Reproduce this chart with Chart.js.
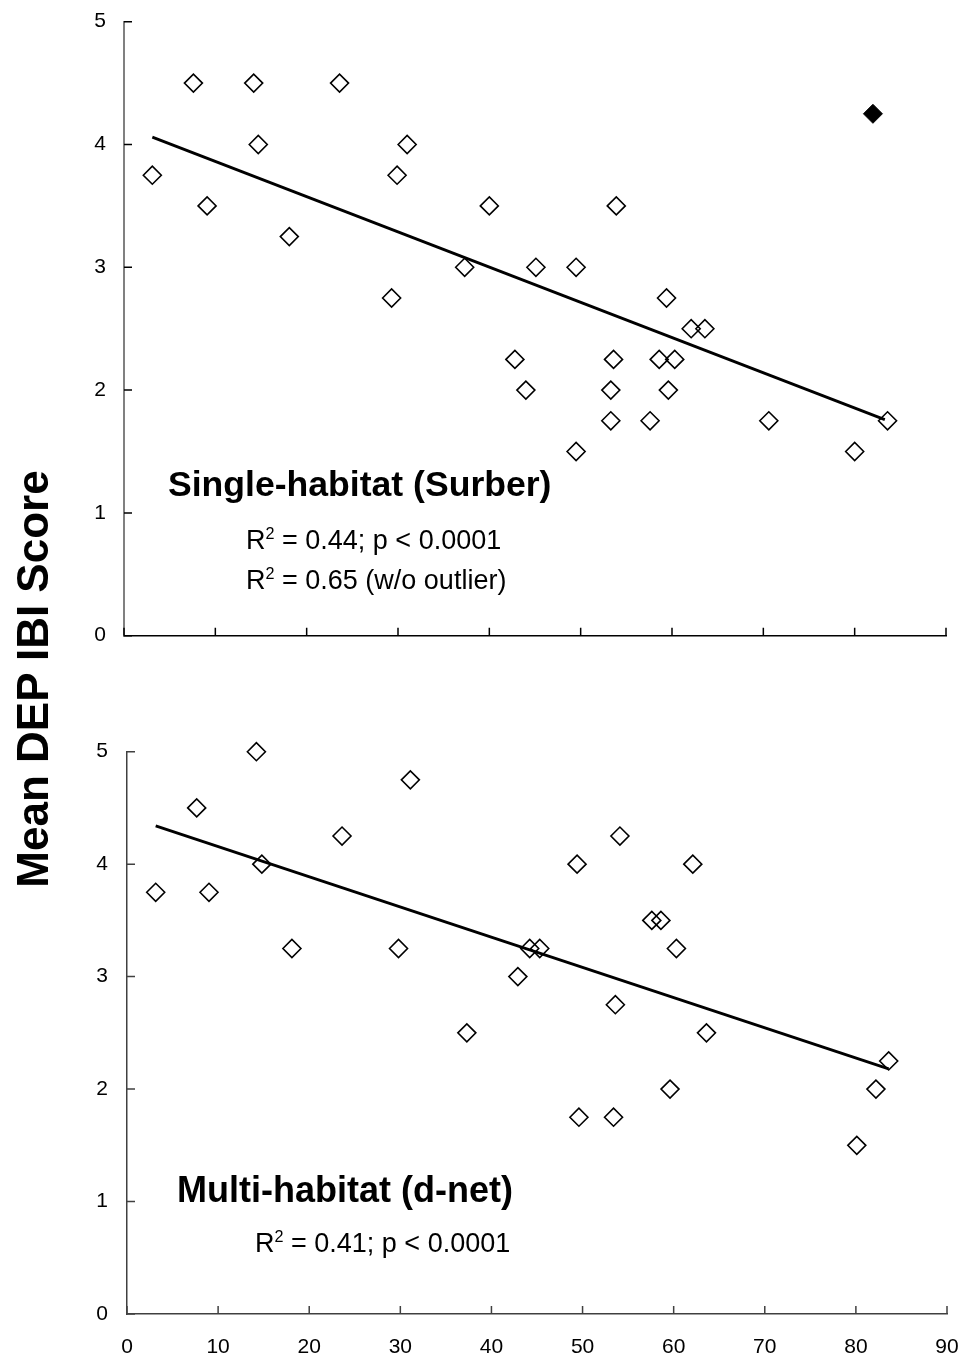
<!DOCTYPE html>
<html>
<head>
<meta charset="utf-8">
<script src="https://cdn.jsdelivr.net/npm/chart.js@4.4.1/dist/chart.umd.min.js"></script>
<style>
  body { margin: 0; background: #fff; }
  #wrap { position: relative; width: 964px; height: 1361px; font-family: "Liberation Sans", Arial, sans-serif; color: #000; }
  canvas { position: absolute; left: 0; }
  .txt { position: absolute; white-space: nowrap; line-height: 1; }
  .big { font-weight: bold; font-size: 36px; }
  .stat { font-size: 27px; }
  .stat sup { font-size: 60%; vertical-align: 0.6em; }
  #ytitle { position: absolute; left: -267px; top: 657px; width: 600px; text-align: center;
            font-weight: bold; font-size: 44px; line-height: 44px; transform: rotate(-90deg); }
</style>
</head>
<body>
<div id="wrap">
  <canvas id="topChart" width="964" height="680" style="top:0"></canvas>
  <canvas id="bottomChart" width="964" height="681" style="top:680px"></canvas>
  <div id="ytitle">Mean DEP IBI Score</div>
  <div class="txt big" style="left:168px; top:467px; font-size:35.6px;">Single-habitat (Surber)</div>
  <div class="txt stat" style="left:246px; top:525px;">R<sup>2</sup> = 0.44; p &lt; 0.0001</div>
  <div class="txt stat" style="left:246px; top:565px;">R<sup>2</sup> = 0.65 (w/o outlier)</div>
  <div class="txt big" style="left:177px; top:1172px;">Multi-habitat (d-net)</div>
  <div class="txt stat" style="left:255px; top:1228px;">R<sup>2</sup> = 0.41; p &lt; 0.0001</div>
</div>
<script>
// single-habitat (Surber) samples
const singleX = [3.1, 7.6, 9.1, 14.2, 14.7, 18.1, 23.6, 29.3, 29.9, 31.0, 37.3, 40.0, 42.8, 44.0, 45.1, 49.5,
                 49.5, 53.3, 53.3, 53.6, 53.9, 57.6, 58.6, 59.4, 59.6, 60.3, 62.1, 63.6, 70.6, 80.0, 83.6];
const singleY = [3.75, 4.5, 3.5, 4.5, 4.0, 3.25, 4.5, 2.75, 3.75, 4.0, 3.0, 3.5, 2.25, 2.0, 3.0, 3.0,
                 1.5, 2.0, 1.75, 2.25, 3.5, 1.75, 2.25, 2.75, 2.0, 2.25, 2.5, 2.5, 1.75, 1.5, 1.75];
const outlierX = [82.0];
const outlierY = [4.25];
const singleFitX = [3.1, 83.3];
const singleFitY = [4.06, 1.76];

// multi-habitat (d-net) samples
const multiX = [3.15, 7.65, 9.0, 14.2, 14.8, 18.1, 23.6, 29.8, 31.1, 37.3, 42.9, 44.2, 45.3, 49.4,
                49.6, 53.4, 53.6, 54.1, 57.6, 58.6, 59.6, 60.3, 62.1, 63.6, 80.1, 82.2, 83.6];
const multiY = [3.75, 4.5, 3.75, 5.0, 4.0, 3.25, 4.25, 3.25, 4.75, 2.5, 3.0, 3.25, 3.25, 4.0,
                1.75, 1.75, 2.75, 4.25, 3.5, 3.5, 2.0, 3.25, 4.0, 2.5, 1.5, 2.0, 2.25];
const multiFitX = [3.15, 83.6];
const multiFitY = [4.34, 2.18];

const xRange = [0, 90];
const yRange = [0, 5];

const pairs = (xs, ys) => xs.map((x, i) => ({ x: x, y: ys[i] }));
const FONT = '"Liberation Sans", Arial, sans-serif';

// tick marks pointing into the plot, like the original
const innerTicks = {
    id: 'innerTicks',
    afterDraw(chart, args, opts) {
        const ctx = chart.ctx;
        const xs = chart.scales.x, ys = chart.scales.y;
        ctx.save();
        ctx.strokeStyle = opts.color;
        ctx.lineWidth = opts.width;
        ctx.beginPath();
        xs.ticks.forEach(t => {
            const px = xs.getPixelForValue(t.value);
            ctx.moveTo(px, ys.bottom);
            ctx.lineTo(px, ys.bottom - opts.length);
        });
        ys.ticks.forEach(t => {
            const py = ys.getPixelForValue(t.value);
            ctx.moveTo(xs.left, py);
            ctx.lineTo(xs.left + opts.length, py);
        });
        ctx.stroke();
        ctx.restore();
    }
};

// let layout.padding alone decide where the plot box sits
function noOverflow(s) {
    s.paddingTop = s.paddingBottom = s.paddingLeft = s.paddingRight = 0;
}

function makeChart(id, points, extra, fitX, fitY, o) {
    const datasets = [
        {
            type: 'line',
            data: pairs(fitX, fitY),
            borderColor: '#000',
            borderWidth: 2.8,
            pointRadius: 0,
            fill: false
        },
        {
            data: points,
            pointStyle: 'rectRot',
            pointRadius: 9,
            borderWidth: 1.6,
            borderColor: '#000',
            backgroundColor: 'rgba(0,0,0,0)',
            clip: false
        }
    ];
    if (extra) {
        datasets.push({
            data: extra,
            pointStyle: 'rectRot',
            pointRadius: 9.5,
            borderWidth: 1,
            borderColor: '#000',
            backgroundColor: '#000',
            clip: false
        });
    }
    return new Chart(document.getElementById(id), {
        type: 'scatter',
        data: { datasets: datasets },
        plugins: [innerTicks],
        options: {
            responsive: false,
            animation: false,
            layout: { padding: o.padding },
            scales: {
                x: {
                    min: xRange[0], max: xRange[1],
                    grid: { drawOnChartArea: false, drawTicks: false },
                    border: { color: o.xBorder, width: o.xBorderWidth },
                    ticks: {
                        display: o.xLabels, stepSize: 10, padding: 21,
                        color: '#000', font: { family: FONT, size: 21 }
                    },
                    afterFit: s => { s.height = o.xHeight; noOverflow(s); }
                },
                y: {
                    min: yRange[0], max: yRange[1],
                    grid: { drawOnChartArea: false, drawTicks: false },
                    border: { color: o.yBorder, width: o.yBorderWidth },
                    ticks: {
                        stepSize: 1, padding: o.yPad,
                        color: '#000', font: { family: FONT, size: 21 }
                    },
                    afterFit: s => { s.width = o.yWidth; noOverflow(s); }
                }
            },
            plugins: {
                legend: { display: false },
                tooltip: { enabled: false },
                innerTicks: { color: o.tickColor, width: 1.5, length: 8 }
            }
        }
    });
}

makeChart('topChart', pairs(singleX, singleY), pairs(outlierX, outlierY), singleFitX, singleFitY, {
    padding: { left: 0, top: 21.7, right: 18, bottom: 44.3 },
    xLabels: false, xHeight: 0, yWidth: 124, yPad: 18,
    xBorder: '#000', xBorderWidth: 1.5,
    yBorder: '#808080', yBorderWidth: 2,
    tickColor: '#000'
});

makeChart('bottomChart', pairs(multiX, multiY), null, multiFitX, multiFitY, {
    padding: { left: 0, top: 71.7, right: 17, bottom: 1 },
    xLabels: true, xHeight: 46, yWidth: 127, yPad: 19,
    xBorder: '#404040', xBorderWidth: 1.5,
    yBorder: '#404040', yBorderWidth: 1.5,
    tickColor: '#404040'
});
</script>
</body>
</html>
